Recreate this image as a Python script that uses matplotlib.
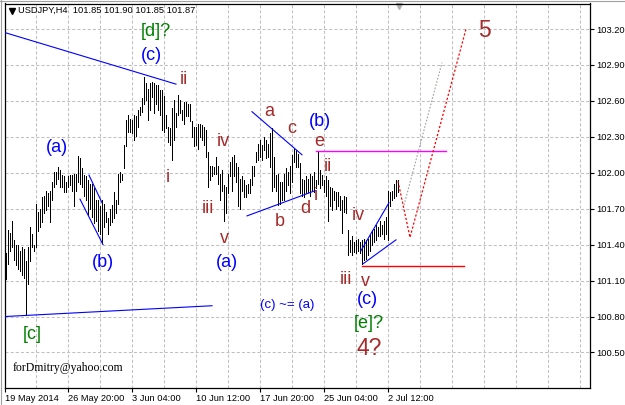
import matplotlib
matplotlib.use("Agg")
import matplotlib.pyplot as plt
from matplotlib.lines import Line2D

plt.rcParams['font.family'] = ['Liberation Sans', 'DejaVu Sans']
plt.rcParams['lines.scale_dashes'] = False

# ---- H4 bars (high / low) ----
highs = [
    101.33, 101.52, 101.50, 101.60, 101.44, 101.40, 101.40, 101.35, 101.38, 101.36,
    101.26, 101.38, 101.55, 101.49, 101.40, 101.74, 101.67, 101.70, 101.80, 101.81,
    101.85, 101.83, 101.85, 101.92, 102.01, 102.01, 102.05, 102.02, 101.98, 101.97,
    101.92, 101.97, 101.98, 101.98, 101.99, 101.99, 102.14, 102.12, 102.04, 101.98,
    101.97, 101.94, 101.91, 101.91, 101.87, 101.77, 101.77, 101.72, 101.77,
    101.74, 101.67, 101.62, 101.70, 101.73, 101.84, 101.77, 101.99, 102.01, 101.99,
    102.23, 102.44, 102.48, 102.45, 102.44, 102.48, 102.47, 102.52, 102.55, 102.62,
    102.80, 102.75, 102.70, 102.75, 102.76, 102.75, 102.73, 102.73, 102.69, 102.69,
    102.64, 102.48, 102.38, 102.37, 102.54, 102.61, 102.50, 102.65, 102.61, 102.52,
    102.59, 102.59, 102.57, 102.57, 102.43, 102.38, 102.38, 102.41,
    102.41, 102.40, 102.38, 102.36, 102.17, 102.06, 102.06, 102.05, 102.13, 102.06,
    101.99, 102.02, 101.90, 101.88, 101.99, 102.09, 102.13, 102.15, 102.08, 102.05,
    101.95, 101.97, 101.94, 101.90, 101.91, 101.95, 102.06, 102.06, 102.17, 102.24,
    102.27, 102.23, 102.30, 102.27, 102.24, 102.33, 102.37, 102.13, 101.98, 101.99,
    101.92, 101.92, 101.99, 102.04, 102.01, 102.06, 102.15, 102.20, 102.19, 102.16,
    102.08, 101.95, 101.94, 101.97, 101.95, 101.99, 101.97, 102.01, 101.94, 102.17,
    102.02, 101.98, 101.94, 101.97, 101.94, 101.88, 101.87, 101.85, 101.84, 101.84,
    101.81, 101.77, 101.81, 101.80, 101.52, 101.44, 101.47, 101.42, 101.44, 101.45,
    101.42, 101.44, 101.45, 101.44, 101.45, 101.48, 101.52, 101.53, 101.56, 101.55,
    101.60, 101.56, 101.60, 101.63, 101.85, 101.84, 101.85, 101.91, 101.94, 101.94,
]
lows = [
    101.11, 101.24, 101.35, 101.38, 101.27, 101.23, 101.20, 101.18, 101.15, 101.12,
    100.81, 101.07, 101.26, 101.38, 101.35, 101.38, 101.51, 101.55, 101.59, 101.66,
    101.69, 101.72, 101.59, 101.77, 101.88, 101.91, 101.95, 101.88, 101.88, 101.84,
    101.84, 101.88, 101.90, 101.85, 101.72, 101.85, 101.92, 101.91, 101.88, 101.81,
    101.77, 101.65, 101.70, 101.63, 101.58, 101.60, 101.51, 101.49, 101.41,
    101.55, 101.59, 101.49, 101.56, 101.59, 101.62, 101.66, 101.74, 101.92, 101.94,
    102.04, 102.22, 102.34, 102.34, 102.33, 102.27, 102.31, 102.38, 102.48, 102.51,
    102.57, 102.61, 102.44, 102.52, 102.63, 102.50, 102.57, 102.52, 102.48, 102.36,
    102.34, 102.37, 102.26, 102.23, 102.11, 102.27, 102.38, 102.48, 102.50, 102.44,
    102.41, 102.47, 102.47, 102.43, 102.30, 102.22, 102.23, 102.20,
    102.30, 102.27, 102.23, 102.13, 101.88, 101.94, 101.97, 101.99, 101.99, 101.91,
    101.77, 101.85, 101.60, 101.66, 101.83, 101.97, 101.85, 101.97, 101.92, 101.72,
    101.70, 101.85, 101.80, 101.80, 101.83, 101.83, 101.90, 101.97, 102.09, 102.11,
    102.13, 102.11, 102.19, 102.12, 102.13, 102.05, 101.85, 101.88, 101.85, 101.73,
    101.74, 101.77, 101.77, 101.85, 101.90, 101.83, 101.92, 102.09, 102.05, 102.05,
    101.83, 101.81, 101.80, 101.83, 101.84, 101.81, 101.85, 101.84, 101.87, 101.91,
    101.87, 101.90, 101.84, 101.81, 101.60, 101.72, 101.69, 101.77, 101.70, 101.72,
    101.69, 101.50, 101.67, 101.66, 101.31, 101.34, 101.31, 101.34, 101.33, 101.35,
    101.33, 101.24, 101.27, 101.28, 101.31, 101.35, 101.40, 101.42, 101.44, 101.47,
    101.47, 101.49, 101.45, 101.49, 101.44, 101.72, 101.77, 101.79, 101.81, 101.84,
]

price_ticks = [100.50, 100.80, 101.10, 101.40, 101.70, 102.00, 102.30, 102.60, 102.90, 103.20]
date_pos = [-0.5, 31, 63, 95, 127, 159, 191]
date_labels = ['19 May 2014', '26 May 20:00', '3 Jun 04:00', '10 Jun 12:00',
               '17 Jun 20:00', '25 Jun 04:00', '2 Jul 12:00']
grid_pos = list(range(15, 292, 16))
title_text = 'USDJPY,H4  101.85 101.90 101.85 101.87'

# trend lines (x0, y0, x1, y1) in bar index / price
blue_lines = [
    (-0.5, 103.17, 85, 102.74),
    (37, 101.78, 48.5, 101.40),
    (41.5, 101.98, 48, 101.75),
    (123, 102.51, 148, 102.15),
    (120.5, 101.64, 154.5, 101.85),
    (-0.5, 100.80, 103, 100.89),
    (177.5, 101.35, 191.5, 101.75),
    (178.5, 101.24, 195, 101.44),
]
magenta_level = (155, 220, 102.18)
red_level = (178, 229, 101.22)
red_path_x = [196, 202, 230]
red_path_y = [101.93, 101.46, 103.20]
gray_path_x = [199, 218]
gray_path_y = [101.73, 102.92]

BLUE = '#0000ff'
BROWN = '#a52a2a'
GREEN = '#008000'
labels = [
    ('[d]?', 75, 103.18, GREEN, 13),
    ('(c)', 72.5, 102.98, BLUE, 13),
    ('ii', 89, 102.78, BROWN, 13),
    ('(a)', 25.5, 102.21, BLUE, 13),
    ('i', 81, 101.96, BROWN, 13),
    ('iv', 108.5, 102.26, BROWN, 13),
    ('a', 131.5, 102.51, BROWN, 13),
    ('c', 143, 102.37, BROWN, 13),
    ('(b)', 157, 102.43, BLUE, 13),
    ('e', 156.5, 102.26, BROWN, 13),
    ('ii', 161, 102.05, BROWN, 13),
    ('i', 155, 101.81, BROWN, 13),
    ('iii', 101, 101.70, BROWN, 13),
    ('v', 109, 101.45, BROWN, 13),
    ('(a)', 110.5, 101.25, BLUE, 13),
    ('(b)', 48.5, 101.25, BLUE, 13),
    ('b', 137, 101.59, BROWN, 13),
    ('d', 149.5, 101.70, BROWN, 13),
    ('(c) ~= (a)', 140.5, 100.90, BLUE, 9.5),
    ('[c]', 13, 100.65, GREEN, 13),
    ('iv', 176, 101.64, BROWN, 13),
    ('iii', 170, 101.11, BROWN, 13),
    ('v', 179.5, 101.09, BROWN, 13),
    ('(c)', 180.5, 100.94, BLUE, 13),
    ('[e]?', 181.5, 100.74, GREEN, 13),
    ('4?', 181.5, 100.53, BROWN, 16.5),
    ('5', 239, 103.19, BROWN, 16.5),
]
email_text = ('forDmitry@yahoo.com', 3.5, 100.37)

W, H = 625, 405
fig = plt.figure(figsize=(W / 100, H / 100), dpi=100)
L, R, T, B = 4.5, 589.5, 3.5, 387.8
ax = fig.add_axes([L / W, (H - B) / H, (R - L) / W, (B - T) / H])
ax.set_xlim(-0.75, 291.75)
ax.set_ylim(100.205, 103.413)

# grid
for g in grid_pos:
    ax.axvline(g, color='#c0c0c0', lw=0.75, dashes=(2.2, 1.5), zorder=0)
for p in price_ticks:
    ax.axhline(p, color='#c0c0c0', lw=0.75, dashes=(2.2, 1.5), zorder=0)

# bars
xs = list(range(len(highs)))
ax.vlines(xs, lows, highs, color='black', lw=0.72, antialiased=False, zorder=3)

# lines
for x0, y0, x1, y1 in blue_lines:
    ax.plot([x0, x1], [y0, y1], color=BLUE, lw=0.8, zorder=4)
ax.plot([magenta_level[0], magenta_level[1]], [magenta_level[2]] * 2, color='#ff00ff', lw=1.0, zorder=4)
ax.plot([red_level[0], red_level[1]], [red_level[2]] * 2, color='#ff0000', lw=1.0, zorder=4)
ax.plot(red_path_x, red_path_y, color='#ff0000', lw=0.9, dashes=(1.6, 1.4), zorder=4)
ax.plot(gray_path_x, gray_path_y, color='#a0a0a0', lw=0.8, dashes=(1.2, 1.2), zorder=4)

for s, x, y, c, sz in labels:
    ax.text(x, y, s, color=c, fontsize=sz, ha='center', va='center', zorder=5)
ax.text(email_text[1], email_text[2], email_text[0], fontsize=8.5, family='Liberation Serif',
        ha='left', va='center', color='black')

# axes / ticks
for sp in ax.spines.values():
    sp.set_color('black')
    sp.set_linewidth(0.9)
ax.yaxis.tick_right()
ax.set_yticks(price_ticks)
ax.set_yticklabels(['%.2f' % p for p in price_ticks])
ax.tick_params(axis='y', direction='out', length=3, width=0.8, labelsize=6.7, pad=2)
ax.set_xticks(date_pos)
ax.set_xticklabels(date_labels)
ax.tick_params(axis='x', direction='out', length=3, width=0.8, labelsize=6.7, pad=1.5)
for lbl in ax.get_xticklabels():
    lbl.set_ha('left')

# header and window border
fig.text(18 / W, 1 - 10.5 / H, title_text, fontsize=6.7, ha='left', va='center', color='black')
fig.add_artist(Line2D([11.5 / W], [1 - 10.5 / H], marker='v', color='black', markersize=4.5,
                      transform=fig.transFigure))
fig.add_artist(Line2D([0.5 / W, 0.5 / W], [0, 1], color='#a0a0a0', lw=0.8, transform=fig.transFigure))
fig.add_artist(Line2D([0, 1], [1 - 0.5 / H, 1 - 0.5 / H], color='#a0a0a0', lw=0.8, transform=fig.transFigure))
ax.plot([196.5], [1 - 2.5 / (B - T)], marker='v', color='#b0b0b0', markersize=5,
        transform=ax.get_xaxis_transform(), clip_on=False)

fig.savefig('out.png', dpi=100, facecolor='white')
